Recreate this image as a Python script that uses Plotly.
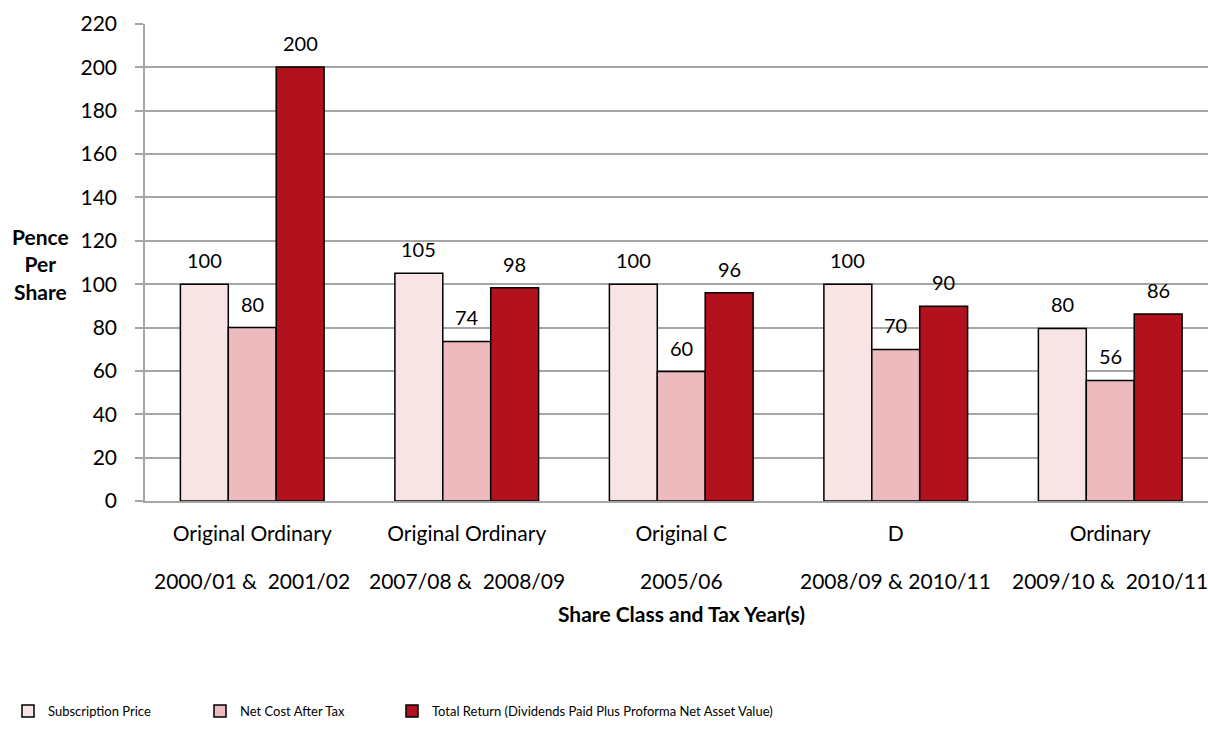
import plotly.graph_objects as go

categories = ["Original Ordinary", "Original Ordinary", "Original C", "D", "Ordinary"]
tax_years = ["2000/01 &\u00a0 2001/02", "2007/08 &\u00a0 2008/09", "2005/06",
             "2008/09 & 2010/11", "2009/10 &\u00a0 2010/11"]
subscription_price = [100, 105, 100, 100, 79.6]
net_cost_after_tax = [80, 73.6, 59.7, 69.9, 55.6]
total_return = [200.2, 98.3, 96.1, 89.8, 86.3]

series_names = ["Subscription Price", "Net Cost After Tax",
                "Total Return (Dividends Paid Plus Proforma Net Asset Value)"]
series_values = [subscription_price, net_cost_after_tax, total_return]
series_colors = ["#F8E4E5", "#EDBBBE", "#B1121D"]

FONT = "Lato, 'Open Sans', sans-serif"

W, H = 1208, 729
ml, mr, mt, mb = 145, 0, 24, 228
pw, ph = W - ml - mr, H - mt - mb

xpos = list(range(len(categories)))
legend_ids = ["legend", "legend2", "legend3"]
legend_text_x = [48, 240, 432]

fig = go.Figure()
for name, vals, col, lid in zip(series_names, series_values, series_colors, legend_ids):
    fig.add_trace(go.Bar(
        x=xpos, y=vals, name=name, legend=lid,
        marker=dict(color=col, line=dict(color="#000000", width=1.5)),
        hoverinfo="skip",
    ))

# data labels
offsets = [-48, 0, 48]
for vals, dx in zip(series_values, offsets):
    for xi, v in zip(xpos, vals):
        fig.add_annotation(
            x=xi, y=v, xref="x", yref="y", text=f"{v:.0f}",
            showarrow=False, xshift=dx, yshift=24,
            xanchor="center", yanchor="middle",
            font=dict(family=FONT, size=20, color="#000000"),
        )

# second row of category labels (tax years)
for xi, ty in zip(xpos, tax_years):
    fig.add_annotation(
        x=xi, y=0, xref="x", yref="paper", text=ty,
        showarrow=False, yshift=-79, xanchor="center", yanchor="middle",
        font=dict(family=FONT, size=21, color="#000000"),
    )

# axis titles
fig.add_annotation(
    x=(40 - ml) / pw, y=1 - (264 - mt) / ph, xref="paper", yref="paper",
    text="<b>Pence<br>Per<br>Share</b>", showarrow=False,
    xanchor="center", yanchor="middle", align="center",
    font=dict(family=FONT, size=21, color="#000000"),
)
fig.add_annotation(
    x=(681 - ml) / pw, y=1 - (613 - mt) / ph, xref="paper", yref="paper",
    text="<b>Share Class and Tax Year(s)</b>", showarrow=False,
    xanchor="center", yanchor="middle",
    font=dict(family=FONT, size=21, color="#000000"),
)

cat_px = 214.5
x_end = -0.5 + pw / cat_px

legend_common = dict(
    orientation="h", xref="container", yref="container",
    xanchor="left", yanchor="middle", y=(H - 711) / H,
    font=dict(family=FONT, size=13, color="#000000"),
    itemwidth=30, bgcolor="rgba(0,0,0,0)",
)

fig.update_layout(
    width=W, height=H,
    margin=dict(l=ml, r=mr, t=mt, b=mb, pad=0),
    paper_bgcolor="white", plot_bgcolor="white",
    barmode="group", bargap=0.33, bargroupgap=0,
    font=dict(family=FONT, size=18, color="#000000"),
    showlegend=True,
    legend=dict(legend_common, x=(legend_text_x[0] - 40) / W),
    legend2=dict(legend_common, x=(legend_text_x[1] - 40) / W),
    legend3=dict(legend_common, x=(legend_text_x[2] - 40) / W),
    xaxis=dict(
        tickmode="array", tickvals=xpos, ticktext=categories,
        range=[-0.5, x_end], showgrid=False,
        showline=True, linecolor="#A6A6A6", linewidth=1.5,
        tickfont=dict(family=FONT, size=21, color="#000000"),
        ticks="", ticklabelstandoff=13,
    ),
    yaxis=dict(
        range=[0, 220], dtick=20, tick0=0,
        showgrid=True, gridcolor="#A6A6A6", gridwidth=1.5,
        showline=True, linecolor="#A6A6A6", linewidth=1.5,
        ticks="outside", ticklen=8, tickcolor="#A6A6A6", tickwidth=1.5,
        tickfont=dict(family=FONT, size=21, color="#000000"),
        ticklabelstandoff=14, zeroline=False,
    ),
)

fig.write_html("out.html")
